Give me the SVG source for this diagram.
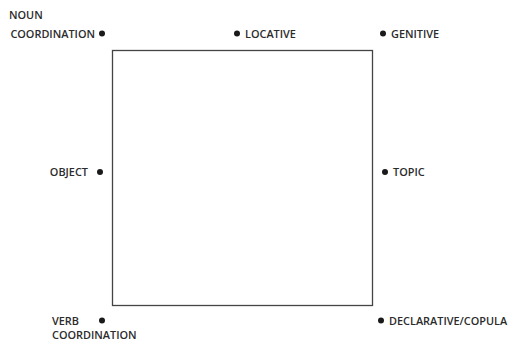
<svg xmlns="http://www.w3.org/2000/svg" width="515" height="342" viewBox="0 0 515 342">
<style>
text{font-family:"Open Sans","Liberation Sans",sans-serif;font-weight:600;font-size:10.9px;fill:#2b2b2b}
.dot{fill:#1a1a1a}
.end{text-anchor:end}
</style>
<rect width="515" height="342" fill="#fff"/>
<g id="connectors">
<rect x="112.5" y="50.5" width="260" height="255" fill="none" stroke="#444" stroke-width="1.3"/>
</g>
<g id="noun-coordination"><text x="9" y="19">NOUN</text><text x="95" y="37.5" class="end">COORDINATION</text><circle class="dot" cx="102" cy="33.5" r="3"/></g>
<g id="locative"><circle class="dot" cx="237" cy="33.5" r="3"/><text x="245" y="37.5">LOCATIVE</text></g>
<g id="genitive"><circle class="dot" cx="383" cy="33.5" r="3"/><text x="391" y="37.5">GENITIVE</text></g>
<g id="object"><text x="88" y="176" class="end">OBJECT</text><circle class="dot" cx="100" cy="172" r="3"/></g>
<g id="topic"><circle class="dot" cx="385" cy="172" r="3"/><text x="393" y="176">TOPIC</text></g>
<g id="verb-coordination"><text x="52" y="324.5">VERB</text><text x="52" y="338.5">COORDINATION</text><circle class="dot" cx="102" cy="320.5" r="3"/></g>
<g id="declarative-copula"><circle class="dot" cx="381" cy="320.5" r="3"/><text x="389" y="325">DECLARATIVE/COPULA</text></g>
</svg>
